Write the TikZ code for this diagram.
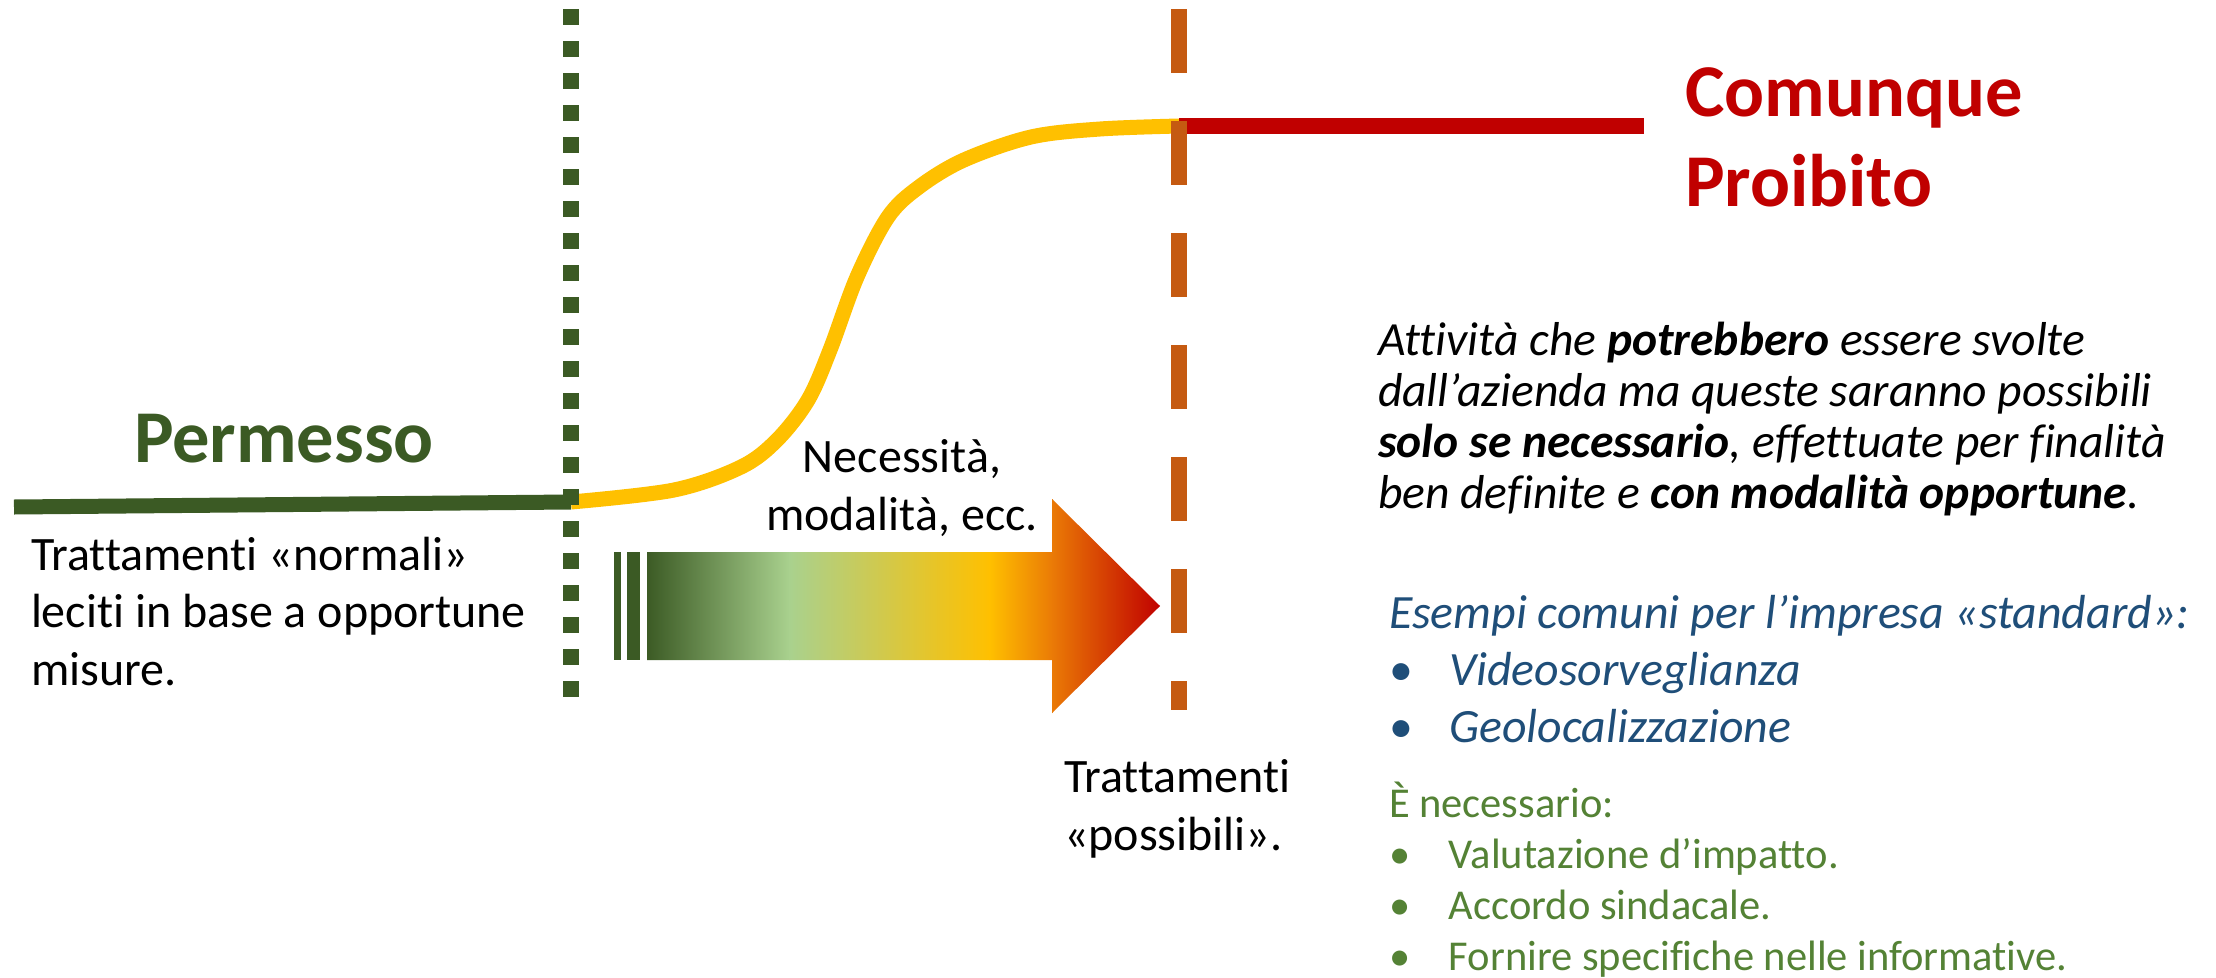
\documentclass[tikz,border=0pt]{standalone}
\usepackage{fontspec}
\setmainfont{Carlito}[Ligatures={NoCommon}]
\definecolor{dkgreen}{HTML}{3B5A24}
\definecolor{ltgreen}{HTML}{A9D18E}
\definecolor{yellowc}{HTML}{FFC000}
\definecolor{orangea}{HTML}{EA7A06}
\definecolor{orangec}{HTML}{C55A11}
\definecolor{redc}{HTML}{C00000}
\definecolor{bluec}{HTML}{1F4E79}
\definecolor{greentext}{HTML}{548235}
\tikzset{
  txt/.style={inner sep=0pt, outer sep=0pt, align=left, anchor=base west},
  normtxt/.style={txt, font=\fontsize{48}{57.5}\selectfont},
  bigtxt/.style={txt, font=\bfseries\fontsize{74.5}{90}\selectfont},
  thickline/.style={line width=15pt, line cap=butt},
}
\begin{document}
\begin{tikzpicture}[x=1pt,y=-1pt]
\useasboundingbox[fill=white] (0,0) rectangle (2216,977);

% key coordinates
\coordinate (gL) at (14,507);
\coordinate (gR) at (571,502);
\coordinate (rL) at (1179,126);
\coordinate (rR) at (1644,126);
\coordinate (gTop) at (571,9);
\coordinate (gBot) at (571,697);
\coordinate (oTop) at (1179,9);
\coordinate (oBot) at (1179,710);

% permitted line
\draw[thickline, dkgreen] (gL) -- (gR);
% transition curve
\draw[thickline, yellowc] plot[smooth, tension=0.55] coordinates {(gR) (674,490) (741,467) (777,440) (808,400) (830,350) (857,277) (888,217) (919,187) (964,160) (1031,137) (1100,129) (rL)};
% forbidden line
\draw[line width=16pt, redc] (rL) -- (rR);

% vertical separators
\draw[line width=16pt, dkgreen, dash pattern=on 16pt off 16pt] (gTop) -- (gBot);
\draw[line width=16pt, orangec, dash pattern=on 64pt off 48pt] (oTop) -- (oBot);

% gradient arrow
\begin{scope}
  \clip (647,552) -- (1052,552) -- (1052,499) -- (1160,606) -- (1052,713) -- (1052,660) -- (647,660) -- cycle;
  \shade[left color=dkgreen, right color=ltgreen] (646,490) rectangle (790,720);
  \shade[left color=ltgreen, right color=yellowc] (789,490) rectangle (990,720);
  \shade[left color=yellowc, right color=orangea] (989,490) rectangle (1053,720);
  \shade[left color=orangea, right color=redc] (1052,490) rectangle (1161,720);
\end{scope}
\fill[dkgreen] (614,552) rectangle (621,660);
\fill[dkgreen] (627,552) rectangle (640,660);

% texts (base anchor = baseline of last line)
\node[bigtxt, text=dkgreen] (perm) at (134,462) {Permesso};
\node[bigtxt, text=redc] (proib) at (1685,206) {Comunque\\Proibito};
\node[normtxt] (norm) at (31,685) {Trattamenti «normali»\\leciti in base a opportune\\misure.};
\node[normtxt, align=center, anchor=base] (neces) at (902,530) {Necessità,\\modalità, ecc.};
\node[normtxt] (poss) at (1064,850) {Trattamenti\\«possibili».};
\node[txt, font=\itshape\fontsize{47.6}{51}\selectfont] (attiv) at (1378,508) {Attività che \textbf{potrebbero} essere svolte\\dall’azienda ma queste saranno possibili\\\textbf{solo se necessario}, effettuate per finalità\\ben definite e \textbf{con modalità opportune}.};
\node[txt, font=\itshape\fontsize{47.8}{57}\selectfont, text=bluec] (esempi) at (1389,742) {Esempi comuni per l’impresa «standard»:\\\makebox[60pt][l]{\upshape •}Videosorveglianza\\\makebox[60pt][l]{\upshape •}Geolocalizzazione};
\node[txt, font=\fontsize{42.5}{51}\selectfont, text=greentext] (necess) at (1389,970) {È necessario:\\\makebox[60pt][l]{•}Valutazione d’impatto.\\\makebox[60pt][l]{•}Accordo sindacale.\\\makebox[60pt][l]{•}Fornire specifiche nelle informative.};
\end{tikzpicture}
\end{document}
